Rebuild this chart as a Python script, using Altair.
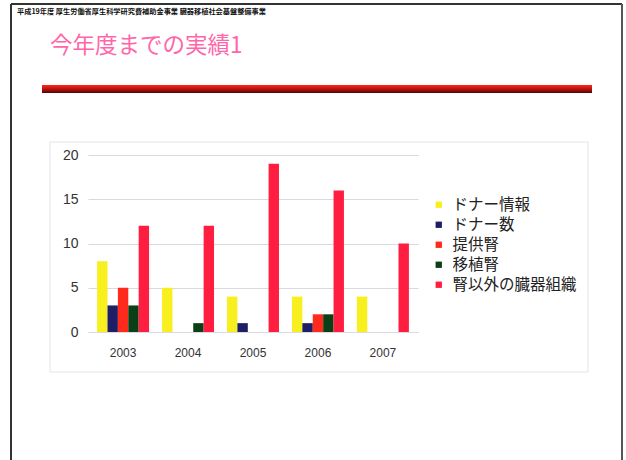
import altair as alt
import pandas as pd

years = ["2003", "2004", "2005", "2006", "2007"]
series = ["ドナー情報", "ドナー数", "提供腎", "移植腎", "腎以外の臓器組織"]
donor_info = [8, 5, 4, 4, 4]
donor_count = [3, 0, 1, 1, 0]
kidney_donated = [5, 0, 0, 2, 0]
kidney_transplanted = [3, 1, 0, 2, 0]
other_organs = [12, 12, 19, 16, 10]
colors = ["#F7F01E", "#1E1E66", "#FF2A1C", "#0B3F16", "#FF1E40"]

header_text = "平成19年度 厚生労働省厚生科学研究費補助金事業 臓器移植社会基盤整備事業"
title_text = "今年度までの実績1"

values_by_series = [donor_info, donor_count, kidney_donated, kidney_transplanted, other_organs]
rows = []
for s, vals in zip(series, values_by_series):
    for y, v in zip(years, vals):
        rows.append({"year": y, "series": s, "value": v})
df = pd.DataFrame(rows)

FONT = "Noto Sans CJK JP"

bars = alt.Chart(df).mark_bar().encode(
    x=alt.X("year:N", sort=years, title=None,
            scale=alt.Scale(paddingInner=0.2, paddingOuter=0.14),
            axis=alt.Axis(labelAngle=0, labelFontSize=12, labelColor="#333333",
                          labelPadding=15, ticks=False, domain=False, labelFont="Liberation Sans")),
    xOffset=alt.XOffset("series:N", sort=series),
    y=alt.Y("value:Q", title=None,
            scale=alt.Scale(domain=[0, 20]),
            axis=alt.Axis(values=[0, 5, 10, 15, 20], labelFontSize=14, labelColor="#333333",
                          labelPadding=10, ticks=False, domain=False, gridColor="#d9d9e2",
                          labelFont="Liberation Sans")),
    color=alt.Color("series:N", sort=series, title=None,
                    scale=alt.Scale(domain=series, range=colors),
                    legend=alt.Legend(orient="none", legendX=343, legendY=42,
                                      symbolType="square", symbolSize=40, symbolStrokeWidth=0,
                                      labelFontSize=15.5, labelColor="#222222", labelFont=FONT,
                                      labelOffset=6, rowPadding=3)),
)

one = alt.Data(values=[{"k": 1}])

chart_box = alt.Chart(one).mark_rect(fillOpacity=0, stroke="#e4e4e4", strokeWidth=1).encode(
    x=alt.value(-38), x2=alt.value(500), y=alt.value(-13), y2=alt.value(217))

frame_left = alt.Chart(one).mark_rule(color="#333333", strokeWidth=2).encode(
    x=alt.value(-77), y=alt.value(-151), y2=alt.value(310))
frame_top = alt.Chart(one).mark_rule(color="#333333", strokeWidth=2).encode(
    x=alt.value(-77), x2=alt.value(534), y=alt.value(-151))
frame_right = alt.Chart(one).mark_rule(color="#555555", strokeWidth=2).encode(
    x=alt.value(534), y=alt.value(-151), y2=alt.value(310))

red_bar = alt.Chart(one).mark_rect(
    color=alt.Gradient(gradient="linear",
                       stops=[alt.GradientStop(color="#FF2A1A", offset=0),
                              alt.GradientStop(color="#C0100C", offset=0.5),
                              alt.GradientStop(color="#4A0808", offset=1)],
                       x1=0, x2=0, y1=0, y2=1)
).encode(x=alt.value(-46), x2=alt.value(504), y=alt.value(-70), y2=alt.value(-62))

header = alt.Chart(one).mark_text(align="left", baseline="middle", fontSize=7.2,
                                  fontWeight="bold", font=FONT, color="#111111").encode(
    x=alt.value(-71), y=alt.value(-143), text=alt.value(header_text))

title = alt.Chart(one).mark_text(align="left", baseline="middle", fontSize=22.5,
                                 font=FONT, color="#FF66AA").encode(
    x=alt.value(-38), y=alt.value(-109), text=alt.value(title_text))

chart = alt.layer(chart_box, frame_left, frame_top, frame_right, red_bar, header, title, bars).properties(
    width=330, height=177,
    padding={"left": 88, "top": 155, "right": 208, "bottom": 128},
    autosize=alt.AutoSizeParams(type="none"),
    background="white",
).configure_view(stroke=None)

chart.save("out.html", embed_options={"renderer": "svg", "actions": False})
